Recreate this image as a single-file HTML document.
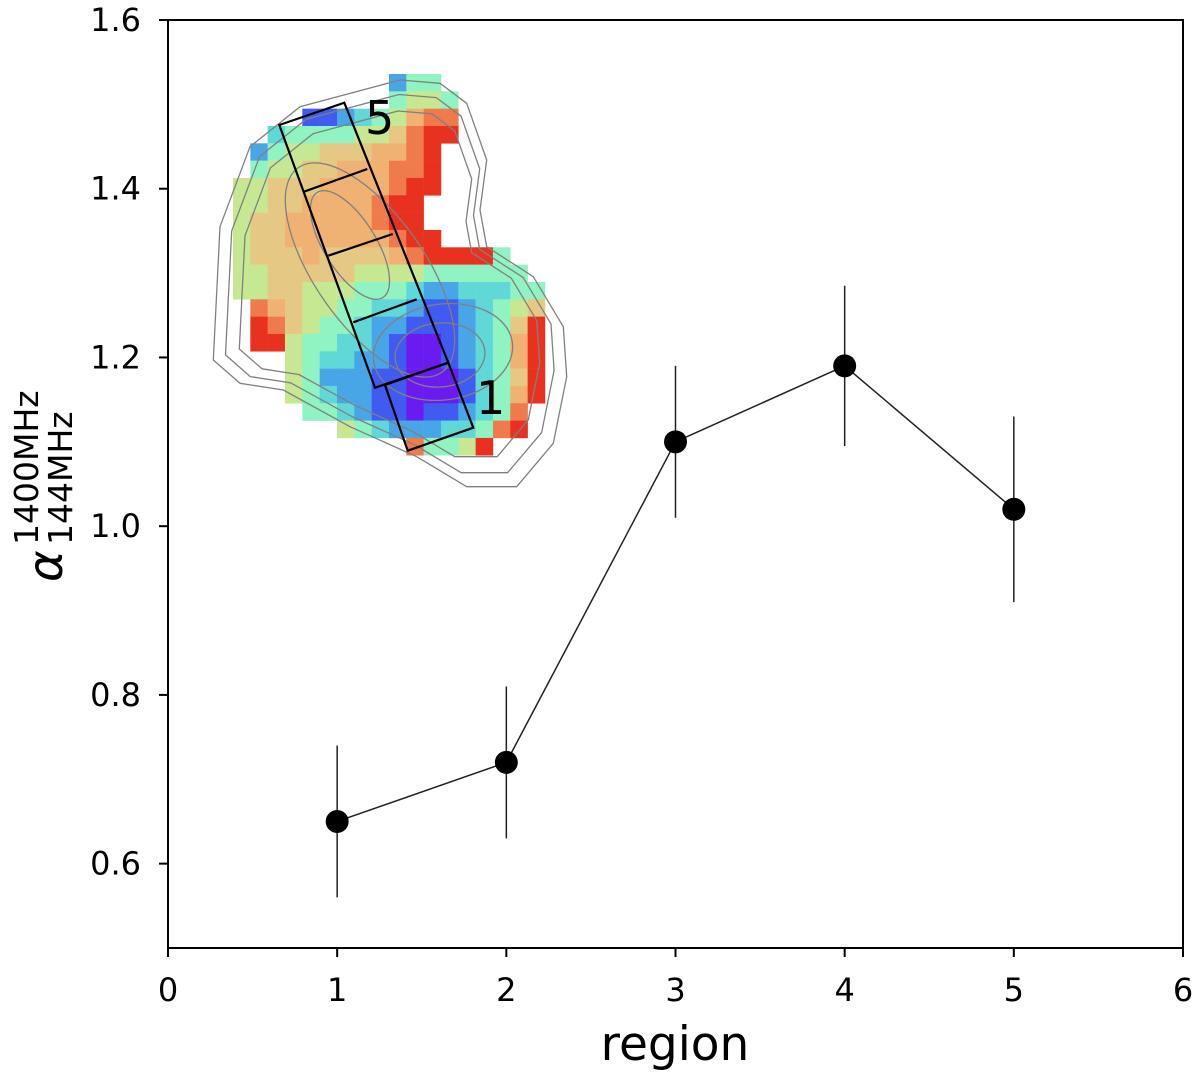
<!DOCTYPE html>
<html><head><meta charset="utf-8"><style>
body{margin:0;background:#fff;}
svg text{font-family:"DejaVu Sans","Liberation Sans",sans-serif;}
</style></head><body>
<svg id="chart" width="1200" height="1076" xmlns="http://www.w3.org/2000/svg">
<g id="inset"></g>
<g id="contours" fill="none" stroke="#808080" stroke-width="1.3"></g>
<g id="boxes" fill="none" stroke="#000" stroke-width="2.2">
<polygon points="279.3,125 344.3,102.7 448.3,362.7 375,387.7"/>
<line x1="304" y1="191.7" x2="367.3" y2="169"/>
<line x1="328.3" y1="255.7" x2="392.7" y2="234"/>
<line x1="353.3" y1="322.3" x2="416.7" y2="299.3"/>
<polygon points="385,385 448.3,362.7 473.3,427.7 407.7,450.7"/>
</g>
<text x="365" y="134" font-size="46">5</text>
<text x="476" y="414" font-size="46">1</text>
<g id="axes"></g>
<g id="series"></g>
<text x="675" y="1060" font-size="47" text-anchor="middle">region</text>
<g transform="translate(62,582) rotate(-90)">
<text x="0" y="0" font-size="48" font-style="italic">α</text>
<text x="37" y="-24" font-size="33">1400MHz</text>
<text x="37" y="10" font-size="33">144MHz</text>
</g>
</svg>
<script>
const regions=[1,2,3,4,5];
const alphaValues=[0.65,0.72,1.10,1.19,1.02];
const alphaErrors=[0.09,0.09,0.09,0.095,0.11];
const xTicks=[0,1,2,3,4,5,6];
const yTicks=[0.6,0.8,1.0,1.2,1.4,1.6];
const X0=168,X1=1183,Y0=948,Y1=20;
const xs=v=>X0+(v-0)/6*(X1-X0);
const ys=v=>Y0-(v-0.5)/1.1*(Y0-Y1);
const NS='http://www.w3.org/2000/svg';
function mk(t,a,p){const e=document.createElementNS(NS,t);for(const k in a)e.setAttribute(k,a[k]);p.appendChild(e);return e;}
const grid=[
".........244",
".........4554",
"....112345788",
"..34444556899",
".24556667789",
".45566777889",
"556667777899",
"55667777899",
"56677777899",
"566777777899",
"5666766667899994",
"55666665555444444",
"556655544432233344",
".87655443321123456",
".98654432211123469",
".99544332100123479",
"...543322100123479",
"...542221100013469",
"...543221100013479",
"....4432110112348",
"......54322233489",
"..........84459"
];
const cols={0:"#6a1cf0",1:"#3f5bf0",2:"#49a6e6",3:"#60d8d8",4:"#8ff4c2",5:"#c6e892",6:"#e4c884",7:"#f0b272",8:"#ef7a4c",9:"#e8321f"};
const inset=document.getElementById('inset');
grid.forEach((row,r)=>{for(let c=0;c<row.length;c++){const ch=row[c];if(ch==='.'||ch===' ')continue;
const cell=mk('rect',{x:233+c*17.33,y:74+r*17.33,width:17.6,height:17.6,fill:cols[ch]},inset);

}});
const outer=[[40,900],[60,500],[150,260],[300,140],[600,60],[720,70],[800,130],[860,300],[840,450],[860,560],[1000,650],[1090,800],[1100,950],[1060,1150],[950,1280],[800,1280],[650,1190],[450,1100],[250,990],[120,970]];
const cg=document.getElementById('contours');
const cx=560,cy=680;
[1,0.93,0.85].forEach(s=>{const pts=outer.map(p=>[(cx+(p[0]-cx)*s)/3+200,(cy+(p[1]-cy)*s)/3+60]);
let d='M'+pts.map(p=>p[0].toFixed(1)+','+p[1].toFixed(1)).join(' L')+' Z';
const e=mk('path',{d:d,'stroke-linejoin':'round'},cg);

});
[[350,245,62,26,58],[370,270,125,55,55],[440,355,45,32,-5],[443,352,70,48,-8]].forEach(p=>{
const e=mk('ellipse',{cx:p[0],cy:p[1],rx:p[2],ry:p[3],transform:`rotate(${p[4]} ${p[0]} ${p[1]})`},cg);

});
const ax=document.getElementById('axes');
const frame=mk('rect',{x:X0,y:Y1,width:X1-X0,height:Y0-Y1,fill:'none',stroke:'#000','stroke-width':2},ax);


xTicks.forEach(t=>{const x=xs(t);mk('line',{x1:x,x2:x,y1:Y0,y2:Y0+9,stroke:'#000','stroke-width':2},ax);
const tx=mk('text',{x:x,y:Y0+53,'font-size':32,'text-anchor':'middle'},ax);tx.textContent=t;

});
yTicks.forEach(t=>{const y=ys(t);mk('line',{x1:X0-9,x2:X0,y1:y,y2:y,stroke:'#000','stroke-width':2},ax);
const tx=mk('text',{x:X0-27,y:y+11,'font-size':32,'text-anchor':'end'},ax);tx.textContent=t.toFixed(1);

});
const sg=document.getElementById('series');
const ln=mk('polyline',{points:regions.map((r,i)=>xs(r)+','+ys(alphaValues[i])).join(' '),fill:'none',stroke:'#222','stroke-width':1.5},sg);


regions.forEach((r,i)=>{
const eb=mk('line',{x1:xs(r),x2:xs(r),y1:ys(alphaValues[i]-alphaErrors[i]),y2:ys(alphaValues[i]+alphaErrors[i]),stroke:'#222','stroke-width':1.5},sg);


const pt=mk('circle',{cx:xs(r),cy:ys(alphaValues[i]),r:11.5,fill:'#000'},sg);

});
</script>
</body></html>
